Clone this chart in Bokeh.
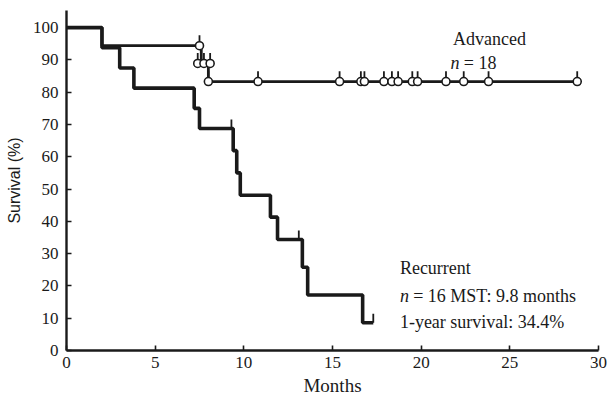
from bokeh.plotting import figure
from bokeh.models import FixedTicker, Range1d, Label
from bokeh.embed import file_html
from bokeh.resources import INLINE

# Recurrent group (n=16) Kaplan-Meier
rec_times = [0, 2.0, 3.0, 3.8, 7.2, 7.5, 9.4, 9.6, 9.8, 11.5, 11.9, 13.3, 13.6, 16.7]
rec_surv = [100, 93.75, 87.5, 81.25, 75.0, 68.75, 61.9, 55.0, 48.1, 41.3, 34.4, 25.8, 17.2, 8.6]
rec_end = 17.3
rec_censor_t = [9.3, 13.1, 17.3]
rec_censor_s = [68.75, 34.4, 8.6]

# Advanced group (n=18)
adv_times = [0, 2.0, 7.6, 8.0]
adv_surv = [100, 94.4, 88.9, 83.3]
adv_end = 28.8
adv_censor_t = [7.5, 7.4, 7.75, 8.1, 8.0, 10.8, 15.4, 16.6, 16.8, 17.9, 18.35, 18.7,
                19.5, 19.8, 21.4, 22.4, 23.8, 28.8]
adv_censor_s = [94.4, 88.9, 88.9, 88.9, 83.3, 83.3, 83.3, 83.3, 83.3, 83.3, 83.3, 83.3,
                83.3, 83.3, 83.3, 83.3, 83.3, 83.3]

x_ticks = [0, 5, 10, 15, 20, 25, 30]
y_ticks = [0, 10, 20, 30, 40, 50, 60, 70, 80, 90, 100]

FONT = "Liberation Serif"
INK = "#1a1a1a"

p = figure(width=607, height=406, output_backend="svg", toolbar_location=None,
           x_range=Range1d(0, 30), y_range=Range1d(0, 105.3),
           min_border_left=66, min_border_right=9, min_border_top=10, min_border_bottom=56)
p.outline_line_color = None
p.grid.visible = False
p.background_fill_color = "white"
p.border_fill_color = "white"

for ax in (p.xaxis[0], p.yaxis[0]):
    ax.axis_line_color = INK
    ax.axis_line_width = 2.4
    ax.major_tick_line_color = INK
    ax.major_tick_line_width = 1.6
    ax.major_tick_in = 5
    ax.major_tick_out = 0
    ax.minor_tick_line_color = None
    ax.major_label_text_font = FONT
    ax.major_label_text_font_size = "17px"
    ax.major_label_text_color = INK
    ax.axis_label_text_font_style = "normal"
    ax.axis_label_text_color = INK

p.xaxis.ticker = FixedTicker(ticks=x_ticks)
p.yaxis.ticker = FixedTicker(ticks=y_ticks)
p.xaxis.axis_label = "Months"
p.xaxis.axis_label_text_font = FONT
p.xaxis.axis_label_text_font_size = "19px"
p.yaxis.axis_label = "Survival (%)"
p.yaxis.axis_label_text_font = "Liberation Sans"
p.yaxis.axis_label_text_font_size = "16px"
p.xaxis.major_label_standoff = 6
p.yaxis.major_label_standoff = 8
p.xaxis.axis_label_standoff = 4
p.yaxis.axis_label_standoff = 7

# step curves
rx = rec_times + [rec_end]
ry = rec_surv + [rec_surv[-1]]
ax_ = adv_times + [adv_end]
ay_ = adv_surv + [adv_surv[-1]]
p.step(ax_, ay_, mode="after", line_color=INK, line_width=2.8)
p.step(rx, ry, mode="after", line_color=INK, line_width=3.6)

# censor ticks
p.segment(x0=rec_censor_t, y0=rec_censor_s, x1=rec_censor_t,
          y1=[s + 2.8 for s in rec_censor_s], line_color=INK, line_width=1.8)
p.segment(x0=adv_censor_t, y0=adv_censor_s, x1=adv_censor_t,
          y1=[s + 3.2 for s in adv_censor_s], line_color=INK, line_width=1.8)
p.scatter(adv_censor_t, adv_censor_s, size=8, marker="circle",
          fill_color="white", line_color=INK, line_width=1.6)

def lab(x, y, t, style="normal"):
    p.add_layout(Label(x=x, y=y, text=t, text_font=FONT, text_font_size="18px",
                       text_color=INK, text_font_style=style, text_baseline="alphabetic"))

lab(21.8, 96.6, "Advanced")
lab(21.65, 88.9, "n", "italic")
lab(22.4, 88.9, "= 18")
lab(18.8, 25.4, "Recurrent")
lab(18.8, 17.0, "n", "italic")
lab(19.55, 17.0, "= 16 MST: 9.8 months")
lab(18.8, 8.7, "1-year survival: 34.4%")

open("out.html", "w").write(file_html(p, INLINE))
